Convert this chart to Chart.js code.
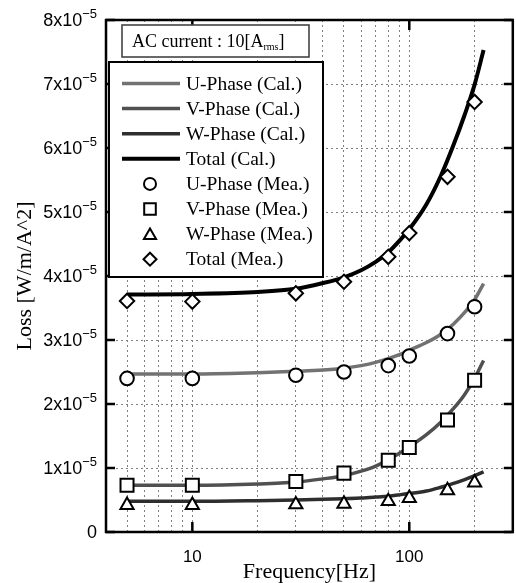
<!DOCTYPE html>
<html><head><meta charset="utf-8">
<script src="https://cdn.jsdelivr.net/npm/chart.js@4"></script>
<style>html,body{margin:0;padding:0;background:#fff;overflow:hidden}
#wrap{position:relative;width:524px;height:583px}</style></head>
<body><div id="wrap"><canvas id="c" width="524" height="583"></canvas></div>
<script>
// ---- data (Loss in W/m/A^2) ----
const freqCal  = [5,10,20,30,40,50,60,70,80,90,100,120,140,160,180,200,220];
const uCal     = [2.47e-5,2.47e-5,2.49e-5,2.51e-5,2.53e-5,2.56e-5,2.60e-5,2.65e-5,2.71e-5,2.77e-5,2.84e-5,2.96e-5,3.09e-5,3.25e-5,3.43e-5,3.63e-5,3.88e-5];
const vCal     = [0.73e-5,0.73e-5,0.75e-5,0.78e-5,0.83e-5,0.88e-5,0.95e-5,1.03e-5,1.13e-5,1.23e-5,1.33e-5,1.52e-5,1.72e-5,1.93e-5,2.15e-5,2.40e-5,2.68e-5];
const wCal     = [0.48e-5,0.48e-5,0.49e-5,0.50e-5,0.51e-5,0.52e-5,0.53e-5,0.545e-5,0.56e-5,0.58e-5,0.60e-5,0.64e-5,0.70e-5,0.76e-5,0.82e-5,0.88e-5,0.94e-5];
const totalCal = [3.71e-5,3.72e-5,3.75e-5,3.80e-5,3.89e-5,3.98e-5,4.09e-5,4.22e-5,4.37e-5,4.55e-5,4.73e-5,5.12e-5,5.57e-5,6.05e-5,6.52e-5,6.99e-5,7.53e-5];

const freqMea  = [5,10,30,50,80,100,150,200];
const uMea     = [2.40e-5,2.40e-5,2.45e-5,2.50e-5,2.60e-5,2.75e-5,3.10e-5,3.52e-5];
const vMea     = [0.73e-5,0.73e-5,0.79e-5,0.92e-5,1.12e-5,1.32e-5,1.75e-5,2.37e-5];
const wMea     = [0.42e-5,0.42e-5,0.43e-5,0.44e-5,0.48e-5,0.53e-5,0.65e-5,0.77e-5];
const totalMea = [3.61e-5,3.60e-5,3.73e-5,3.91e-5,4.30e-5,4.67e-5,5.55e-5,6.72e-5];

const seriesLabels = ['U-Phase (Cal.)','V-Phase (Cal.)','W-Phase (Cal.)','Total (Cal.)',
                      'U-Phase (Mea.)','V-Phase (Mea.)','W-Phase (Mea.)','Total (Mea.)'];
const xTickValues = [5,6,7,8,9,10,20,30,40,50,60,70,80,90,100,200];
const xTickLabels = {10:'10', 100:'100'};
const xMajorTicks = [10,100];
const yTickValues = [0,1e-5,2e-5,3e-5,4e-5,5e-5,6e-5,7e-5,8e-5];
const yExponent = '\u22125';
const boxTitle = ['AC current : 10[A','rms',']'];

// ---- styles ----
const SERIF = '"Liberation Serif", "DejaVu Serif", "Times New Roman", serif';
const SANS = '"Liberation Sans", "DejaVu Sans", Arial, sans-serif';
const lineColors = ['#727272','#505050','#2e2e2e','#000000'];
const lineWidths = [3.5,3.5,3.5,4];
const markerStyles = ['circle','rect','triangle','rectRot'];
const markerRadius = [6.8,9.2,7.6,7.2];

const pts = (xs, ys) => xs.map((x,i)=>({x, y: ys[i]}));
const calSets = [uCal,vCal,wCal,totalCal];
const meaSets = [uMea,vMea,wMea,totalMea];

const datasets = [];
calSets.forEach((ys,i)=>datasets.push({
  label: seriesLabels[i], data: pts(freqCal, ys), borderColor: lineColors[i], borderWidth: lineWidths[i],
  pointRadius: 0, fill: false, cubicInterpolationMode: 'monotone', order: 1, borderCapStyle:'butt'
}));
meaSets.forEach((ys,i)=>datasets.push({
  label: seriesLabels[4+i], data: pts(freqMea, ys), showLine: false, pointStyle: markerStyles[i],
  pointRadius: markerRadius[i], pointBackgroundColor: '#fff', pointBorderColor: '#000', pointBorderWidth: 2, order: 0
}));

function drawMarker(ctx, style, r, x, y){
  ctx.beginPath();
  if (style==='circle'){ ctx.arc(x,y,r,0,Math.PI*2); }
  else if (style==='rect'){ const s=Math.SQRT1_2*r; ctx.rect(x-s,y-s,2*s,2*s); }
  else if (style==='triangle'){ ctx.moveTo(x, y-r); ctx.lineTo(x+r*Math.sin(Math.PI/3), y+r/2); ctx.lineTo(x-r*Math.sin(Math.PI/3), y+r/2); ctx.closePath(); }
  else { ctx.moveTo(x,y-r); ctx.lineTo(x+r,y); ctx.lineTo(x,y+r); ctx.lineTo(x-r,y); ctx.closePath(); }
  ctx.fillStyle='#fff'; ctx.fill(); ctx.lineWidth=2; ctx.strokeStyle='#000'; ctx.stroke();
}

const deco = {
  id: 'deco',
  afterDraw(chart){
    const {ctx, chartArea: a, scales: {x, y}} = chart;
    ctx.save();
    // frame
    ctx.strokeStyle = '#000'; ctx.lineWidth = 2.5;
    ctx.strokeRect(a.left, a.top, a.right - a.left, a.bottom - a.top);
    // inward ticks
    ctx.beginPath();
    yTickValues.forEach(v=>{
      const py = y.getPixelForValue(v);
      ctx.moveTo(a.left, py); ctx.lineTo(a.left + 9, py);
      ctx.moveTo(a.right, py); ctx.lineTo(a.right - 9, py);
    });
    xMajorTicks.forEach(v=>{
      const px = x.getPixelForValue(v);
      ctx.moveTo(px, a.bottom); ctx.lineTo(px, a.bottom - 10);
      ctx.moveTo(px, a.top); ctx.lineTo(px, a.top + 10);
    });
    ctx.stroke();
    // y tick labels with superscript exponent
    ctx.fillStyle = '#000';
    ctx.textBaseline = 'middle';
    y.ticks.forEach(t=>{
      const py = y.getPixelForValue(t.value);
      const m = Math.round(t.value / 1e-5);
      const right = 97;
      if (m === 0){
        ctx.font = '18px ' + SANS; ctx.textAlign = 'right';
        ctx.fillText('0', right, py + 1);
      } else {
        ctx.font = '13px ' + SANS;
        const ew = ctx.measureText(yExponent).width;
        ctx.textAlign = 'right';
        ctx.fillText(yExponent, right, py - 6);
        ctx.font = '18px ' + SANS;
        ctx.fillText(m + 'x10', right - ew, py + 1);
      }
    });
    // legend box
    const lx = 109, ly = 62, lw = 214, lh = 215;
    ctx.fillStyle = '#fff'; ctx.fillRect(lx, ly, lw, lh);
    ctx.lineWidth = 2; ctx.strokeStyle = '#000'; ctx.strokeRect(lx, ly, lw, lh);
    ctx.font = '19.5px ' + SERIF; ctx.textAlign = 'left'; ctx.textBaseline = 'middle';
    seriesLabels.forEach((lab, i)=>{
      const ry = 83.5 + i * 25.1;
      if (i < 4){
        ctx.beginPath(); ctx.moveTo(122, ry); ctx.lineTo(180, ry);
        ctx.strokeStyle = lineColors[i]; ctx.lineWidth = lineWidths[i]; ctx.stroke();
      } else {
        drawMarker(ctx, markerStyles[i-4], [6,8.2,7,6.5][i-4], 150, ry + (i===6 ? 1.5 : 0));
      }
      ctx.fillStyle = '#000'; ctx.fillText(lab, 186, ry + 1);
    });
    // title box
    const tx = 122, ty = 25, tw = 187, th = 32;
    ctx.fillStyle = '#fff'; ctx.fillRect(tx, ty, tw, th);
    ctx.lineWidth = 1.6; ctx.strokeStyle = '#444'; ctx.strokeRect(tx, ty, tw, th);
    ctx.fillStyle = '#000'; ctx.textBaseline = 'middle';
    ctx.font = '18px ' + SERIF;
    let cx = 132;
    ctx.fillText(boxTitle[0], cx, 42); cx += ctx.measureText(boxTitle[0]).width;
    ctx.font = '10px ' + SERIF;
    ctx.fillText(boxTitle[1], cx, 47); cx += ctx.measureText(boxTitle[1]).width;
    ctx.font = '18px ' + SERIF;
    ctx.fillText(boxTitle[2], cx, 42);
    ctx.restore();
  }
};

new Chart(document.getElementById('c'), {
  type: 'line',
  data: { datasets },
  options: {
    responsive: false, animation: false, events: [],
    layout: { padding: { left: 0, right: 6, top: 20, bottom: 0 } },
    plugins: { legend: { display: false }, tooltip: { enabled: false } },
    scales: {
      x: {
        type: 'logarithmic', min: 4, max: 300,
        afterBuildTicks: s => { s.ticks = xTickValues.map(v => ({ value: v })); },
        afterFit: s => { s.height = 51; },
        grid: { color: '#808080', lineWidth: 1, drawTicks: false },
        border: { display: false, dash: [2, 3] },
        ticks: { autoSkip: false, maxRotation: 0, minRotation: 0, padding: 15, color: '#000',
          font: { family: SANS, size: 17 },
          callback: (v, i, ticks) => xTickLabels[ticks[i].value] || '' },
        title: { display: true, text: 'Frequency[Hz]', color: '#000',
          font: { family: SERIF, size: 22, lineHeight: 1 }, padding: { top: 0, bottom: 0 } }
      },
      y: {
        min: 0, max: 8e-5,
        afterBuildTicks: s => { s.ticks = yTickValues.map(v => ({ value: v })); },
        afterFit: s => { s.width = 106; },
        grid: { color: '#808080', lineWidth: 1, drawTicks: false },
        border: { display: false, dash: [2, 3] },
        ticks: { display: false },
        title: { display: true, text: 'Loss [W/m/A^2]', color: '#000',
          font: { family: SERIF, size: 22, lineHeight: 1 }, padding: { top: 14, bottom: 0 } }
      }
    }
  },
  plugins: [deco]
});
</script></body></html>
